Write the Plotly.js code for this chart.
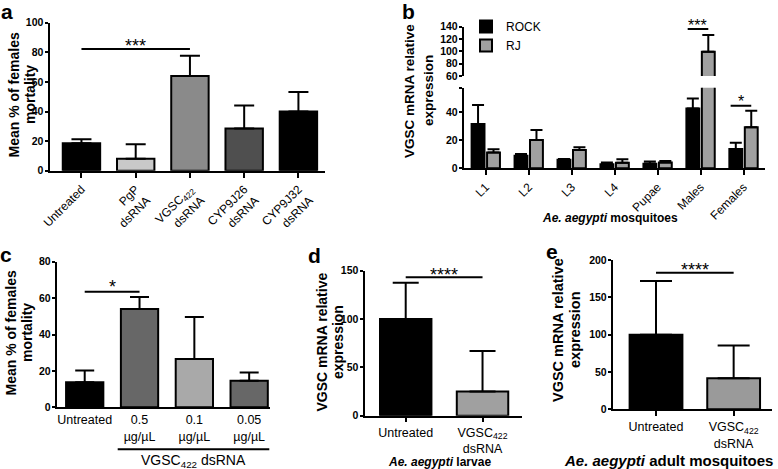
<!DOCTYPE html>
<html>
<head>
<meta charset="utf-8">
<script src="https://cdn.plot.ly/plotly-3.0.1.min.js"></script>
<style>html,body{margin:0;padding:0;background:#fff;}#chart{width:778px;height:469px;}</style>
</head>
<body>
<div id="chart"></div>
<script>
// ---- Data ----
const aCats = ['Untreated', 'PgP<br>dsRNA', 'VGSC<sub>422</sub><br>dsRNA', 'CYP9J26<br>dsRNA', 'CYP9J32<br>dsRNA'];
const aMean = [18.5, 8, 64, 28.5, 40];
const aSD = [2.7, 9.8, 13.6, 15.6, 13.2];

const bStages = ['L1', 'L2', 'L3', 'L4', 'Pupae', 'Males', 'Females'];
const bRock = [31.4, 8.9, 6.0, 2.8, 3.2, 42.5, 13.7];
const bRockSD = [13.5, 1.2, 0.6, 1.4, 1.7, 7.1, 4.5];
const bRJ = [11.3, 20.0, 13.0, 4.0, 4.2, 99.5, 29.1];
const bRJSD = [2.2, 7.2, 1.9, 2.4, 0.9, 27.0, 11.7];

const cCats = ['Untreated', '0.5<br>µg/µL', '0.1<br>µg/µL', '0.05<br>µg/µL'];
const cMean = [13.7, 54.0, 26.6, 14.6];
const cSD = [6.5, 6.6, 23.0, 4.5];

const dCats = ['Untreated', 'VGSC<sub>422</sub><br>dsRNA'];
const dMean = [100, 25];
const dSD = [37.5, 42];

const eCats = ['Untreated', 'VGSC<sub>422</sub><br>dsRNA'];
const eMean = [100, 41.5];
const eSD = [72, 44];

// ---- Styles ----
const aColors = ['#000000', '#c9c9c9', '#8a8a8a', '#4f4f4f', '#000000'];
const cColors = ['#000000', '#676767', '#a9a9a9', '#676767'];
const dColors = ['#000000', '#a0a0a0'];
const eColors = ['#000000', '#9a9a9a'];
const FONT = 'Liberation Sans, Arial, Helvetica, sans-serif';
const W = 778, H = 469;
const px = v => v / W;
const py = v => 1 - v / H;
const zeros = arr => arr.map(() => 0);

function barTrace(x, y, sd, colors, xa, ya, width, cap, extra) {
  return Object.assign({
    type: 'bar', x: x, y: y, xaxis: xa, yaxis: ya, width: width,
    marker: {color: colors, line: {color: '#000', width: 2}},
    error_y: {type: 'data', symmetric: false, array: sd, arrayminus: zeros(sd),
              color: '#000', thickness: 2, width: cap},
    showlegend: false, hoverinfo: 'skip'
  }, extra || {});
}

const traces = [
  barTrace(aCats, aMean, aSD, aColors, 'x', 'y', 0.69, 10),
  // panel b: lower and upper (broken axis) parts
  barTrace(bStages, bRock, bRockSD, '#000', 'x2', 'y2', 0.3, 6, {offset: -0.33, name: 'ROCK', showlegend: true, legendgroup: 'r'}),
  barTrace(bStages, bRJ, bRJSD, '#a0a0a0', 'x2', 'y2', 0.3, 6, {offset: 0.03, name: 'RJ', showlegend: true, legendgroup: 'j'}),
  barTrace(bStages, bRock, bRockSD, '#000', 'x2', 'y3', 0.3, 6, {offset: -0.33, name: 'ROCK', legendgroup: 'r'}),
  barTrace(bStages, bRJ, bRJSD, '#a0a0a0', 'x2', 'y3', 0.3, 6, {offset: 0.03, name: 'RJ', legendgroup: 'j'}),
  barTrace(cCats, cMean, cSD, cColors, 'x3', 'y4', 0.68, 9.5),
  barTrace(dCats, dMean, dSD, dColors, 'x4', 'y5', 0.67, 13),
  barTrace(eCats, eMean, eSD, eColors, 'x5', 'y6', 0.68, 16)
];

const axBase = {showline: true, linecolor: '#000', linewidth: 2, showgrid: false, zeroline: false,
                ticks: 'outside', tickcolor: '#000', tickwidth: 2, ticklen: 4, fixedrange: true};
const yTickFont = {family: FONT, size: 10.5, color: '#000', weight: 'bold'};
const xTickFont = {family: FONT, size: 12, color: '#000'};

function ax(o) { return Object.assign({}, axBase, o); }
function yax(o) { return Object.assign({}, axBase, {ticklen: 3.5, ticklabelstandoff: -1, tickfont: yTickFont}, o); }

const layout = {
  width: W, height: H,
  margin: {l: 0, r: 0, t: 0, b: 0, autoexpand: false},
  paper_bgcolor: '#fff', plot_bgcolor: 'rgba(0,0,0,0)',
  font: {family: FONT, color: '#000'},
  barmode: 'group',
  showlegend: true,
  legend: {x: px(466), y: py(12), xanchor: 'left', yanchor: 'top', font: {family: FONT, size: 12, color: '#000'},
           bgcolor: 'rgba(0,0,0,0)', itemwidth: 30, tracegroupgap: 0},
  xaxis: ax({domain: [px(50), px(325)], anchor: 'y', range: [-0.58, 4.49], tickangle: -45, ticklen: 5, tickfont: xTickFont}),
  yaxis: yax({domain: [py(170.7), py(22.7)], anchor: 'x', range: [0, 100], dtick: 20}),
  xaxis2: ax({domain: [px(464.3), px(765)], anchor: 'y2', range: [-0.5, 6.5], tickangle: -45, ticklen: 5, tickfont: xTickFont}),
  yaxis2: yax({domain: [py(168.3), py(87.7)], anchor: 'x2', range: [0, 57.2], tickmode: 'array',
              tickvals: [0, 20, 40, 57.2], ticktext: ['0', '20', '40', ' ']}),
  yaxis3: yax({domain: [py(76), py(26.7)], anchor: 'x2', range: [60, 140], dtick: 20}),
  xaxis3: ax({domain: [px(57.3), px(270)], anchor: 'y4', range: [-0.5, 3.38], ticks: '', tickfont: {family: FONT, size: 12.5, color: '#000'}}),
  yaxis4: yax({domain: [py(407.3), py(261.7)], anchor: 'x3', range: [0, 80], dtick: 20}),
  xaxis4: ax({domain: [px(365), px(521.7)], anchor: 'y5', range: [-0.53, 1.51], ticklen: 4, tickfont: {family: FONT, size: 12.5, color: '#000'}}),
  yaxis5: yax({domain: [py(415.7), py(270.7)], anchor: 'x4', range: [0, 150], dtick: 50}),
  xaxis5: ax({domain: [px(613.3), px(771.7)], anchor: 'y6', range: [-0.55, 1.49], ticklen: 5, tickfont: {family: FONT, size: 12.5, color: '#000'}}),
  yaxis6: yax({domain: [py(409.3), py(260)], anchor: 'x5', range: [0, 200], dtick: 50}),
  shapes: [],
  annotations: []
};

// significance lines
function sig(xref, yref, x0, x1, y, stars, starY, size) {
  layout.shapes.push({type: 'line', xref: xref, yref: yref, x0: x0, x1: x1, y0: y, y1: y,
                      line: {color: '#000', width: 2}});
  layout.annotations.push({xref: xref, yref: 'paper', x: (x0 + x1) / 2, y: py(starY), text: stars,
                           showarrow: false, xanchor: 'center', yanchor: 'middle',
                           font: {family: FONT, size: size, color: '#000'}});
}
sig('x', 'y', 0, 2, 82.2, '***', 45.7, 18);
sig('x2', 'y3', 4.7, 5.18, 136.3, '***', 25.7, 16);
sig('x2', 'y2', 5.7, 6.18, 44.4, '*', 101.3, 16);
sig('x3', 'y4', 0, 1, 63.5, '*', 287.3, 18);
sig('x4', 'y5', 0, 1, 143.3, '****', 274.7, 18);
sig('x5', 'y6', 0, 1, 183, '****', 269.7, 18);

// bracket under panel c
layout.shapes.push({type: 'line', xref: 'paper', yref: 'paper', x0: px(117.7), x1: px(269.3), y0: py(449.3), y1: py(449.3),
                    line: {color: '#000', width: 2}});

function note(x, y, text, size, extra) {
  layout.annotations.push(Object.assign({xref: 'paper', yref: 'paper', x: px(x), y: py(y), text: text,
    showarrow: false, xanchor: 'center', yanchor: 'middle', font: {family: FONT, size: size, color: '#000'}}, extra || {}));
}
function vtitle(x1, x2, y, l1, l2, size) {
  note(x1, y, '<b>' + l1 + '</b>', size, {textangle: -90});
  note(x2, y, '<b>' + l2 + '</b>', size, {textangle: -90});
}
note(193.3, 460.7, 'VGSC<sub>422</sub> dsRNA', 14);
// panel letters
note(7, 11, '<b>a</b>', 21);
note(408, 12, '<b>b</b>', 21);
note(6, 254, '<b>c</b>', 21);
note(314, 255, '<b>d</b>', 21);
note(551.5, 251.5, '<b>e</b>', 21);
// y titles (two lines each)
vtitle(13.5, 30, 95, 'Mean % of females', 'mortality', 14);
vtitle(409, 428, 91, 'VGSC mRNA relative', 'expression', 13.5);
vtitle(10.5, 27, 333, 'Mean % of females', 'mortality', 14);
vtitle(321.5, 338, 342, 'VGSC mRNA relative', 'expression', 14);
vtitle(558, 575, 330, 'VGSC mRNA relative', 'expression', 14.5);
// x titles
note(610, 218, '<b><i>Ae. aegypti</i> mosquitoes</b>', 12);
note(439, 461.8, '<b><i>Ae. aegypti</i> larvae</b>', 12);
note(668, 460, '<b><i>Ae. aegypti</i> adult mosquitoes</b>', 15);

Plotly.newPlot('chart', traces, layout, {staticPlot: true, displayModeBar: false});
</script>
</body>
</html>
